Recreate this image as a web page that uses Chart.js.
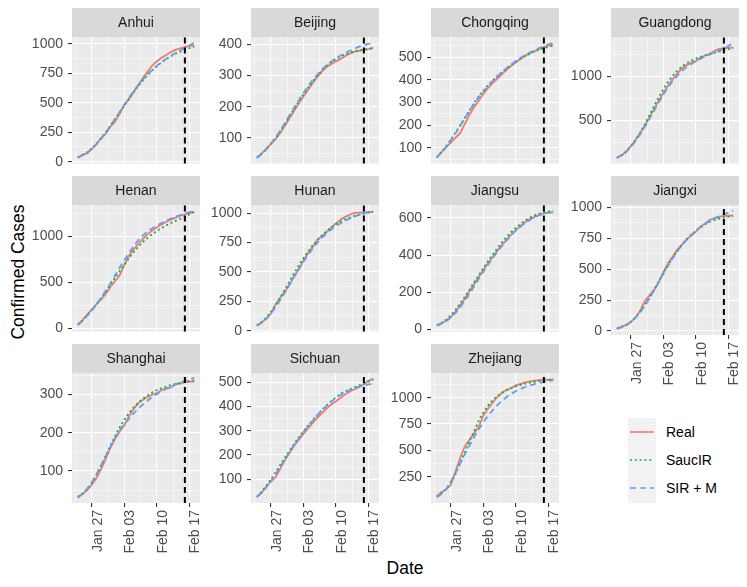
<!DOCTYPE html>
<html>
<head>
<meta charset="utf-8">
<script src="https://cdn.jsdelivr.net/npm/chart.js@4"></script>
<style>
  body { margin: 0; width: 747px; height: 587px; position: relative; overflow: hidden; background: #fff;
         font-family: "Liberation Sans", Arial, sans-serif; }
  canvas { position: absolute; }
  .axis-title { position: absolute; font-size: 17.5px; color: #000; white-space: nowrap; }
  #yTitle { left: 18px; top: 272px; transform: translate(-50%, -50%) rotate(-90deg); }
  #xTitle { left: 405px; top: 568px; transform: translate(-50%, -50%); }
  #legend { position: absolute; left: 628px; top: 418px; }
  .lg-row { height: 28.2px; display: flex; align-items: center; }
  .lg-key { width: 28px; height: 28.2px; background: #F2F2F2; }
  .lg-row span { margin-left: 10px; font-size: 14px; color: #000; }
</style>
</head>
<body>
<div class="axis-title" id="yTitle">Confirmed Cases</div>
<div class="axis-title" id="xTitle">Date</div>
<div id="legend"></div>
<script>
// ========== DATA ==========
// one value per day, index 0 = Jan 24 ... index 25 = Feb 18
const DAY_LABELS = ['Jan 24', 'Jan 25', 'Jan 26', 'Jan 27', 'Jan 28', 'Jan 29', 'Jan 30', 'Jan 31',
    'Feb 01', 'Feb 02', 'Feb 03', 'Feb 04', 'Feb 05', 'Feb 06', 'Feb 07', 'Feb 08', 'Feb 09',
    'Feb 10', 'Feb 11', 'Feb 12', 'Feb 13', 'Feb 14', 'Feb 15', 'Feb 16', 'Feb 17', 'Feb 18'];
const X_TICK_DAYS = [3, 10, 17, 24];
const X_TICK_LABELS = ['Jan 27', 'Feb 03', 'Feb 10', 'Feb 17'];
const CUTOFF_DAY = 23;  // Feb 16, dashed line
const SERIES_NAMES = ['Real', 'SaucIR', 'SIR + M'];

const anhuiReal   = [36, 60, 70, 106, 152, 200, 237, 297, 340, 408, 480, 530, 591, 650, 712, 765, 815, 852, 882, 906, 930, 948, 961, 973, 982, 986];
const anhuiSaucir = [35, 55, 80, 112, 152, 198, 250, 305, 362, 420, 478, 535, 590, 642, 690, 735, 775, 810, 842, 870, 895, 916, 934, 950, 963, 975];
const anhuiSirm   = [33, 52, 77, 108, 147, 193, 245, 302, 362, 423, 484, 543, 599, 651, 699, 742, 780, 815, 846, 874, 899, 922, 944, 965, 986, 1008];

const beijingReal   = [38, 50, 64, 80, 95, 115, 138, 162, 186, 210, 232, 254, 275, 295, 313, 327, 337, 345, 353, 362, 370, 376, 379, 381, 384, 388];
const beijingSaucir = [37, 49, 64, 81, 100, 121, 144, 168, 192, 216, 239, 260, 280, 299, 316, 331, 343, 353, 361, 368, 373, 377, 380, 383, 385, 387];
const beijingSirm   = [36, 48, 63, 81, 101, 123, 147, 172, 197, 221, 244, 265, 285, 303, 319, 333, 345, 355, 364, 372, 379, 386, 392, 397, 401, 405];

const chongqingReal   = [60, 82, 103, 124, 145, 165, 205, 245, 280, 308, 338, 364, 386, 405, 425, 444, 462, 478, 493, 507, 518, 527, 536, 544, 551, 556];
const chongqingSaucir = [58, 82, 108, 137, 167, 199, 232, 265, 298, 327, 352, 376, 397, 416, 434, 451, 466, 480, 493, 505, 516, 525, 533, 540, 546, 551];
const chongqingSirm   = [57, 80, 105, 134, 164, 196, 229, 262, 294, 323, 349, 373, 395, 415, 434, 452, 468, 483, 497, 510, 521, 531, 540, 548, 557, 565];

const guangdongReal   = [78, 98, 146, 207, 277, 354, 436, 535, 632, 725, 813, 895, 970, 1034, 1095, 1131, 1159, 1177, 1219, 1241, 1261, 1294, 1316, 1322, 1328, 1331];
const guangdongSaucir = [72, 102, 145, 203, 275, 360, 455, 558, 665, 765, 858, 940, 1010, 1068, 1115, 1152, 1182, 1206, 1226, 1243, 1258, 1272, 1285, 1298, 1312, 1326];
const guangdongSirm   = [74, 102, 142, 196, 262, 340, 425, 515, 610, 705, 795, 878, 950, 1012, 1064, 1108, 1145, 1177, 1205, 1230, 1253, 1275, 1297, 1320, 1350, 1385];

const henanReal   = [42, 90, 150, 205, 260, 315, 375, 450, 512, 578, 690, 790, 860, 918, 975, 1025, 1065, 1100, 1130, 1160, 1183, 1205, 1225, 1240, 1255, 1265];
const henanSaucir = [38, 85, 140, 200, 262, 328, 398, 472, 548, 622, 695, 765, 830, 888, 940, 985, 1025, 1060, 1092, 1120, 1146, 1170, 1192, 1215, 1240, 1268];
const henanSirm   = [35, 80, 135, 195, 260, 330, 410, 490, 575, 660, 742, 820, 895, 960, 1012, 1055, 1090, 1120, 1147, 1172, 1195, 1215, 1233, 1250, 1266, 1282];

const hunanReal   = [43, 69, 100, 143, 221, 277, 332, 389, 463, 521, 593, 661, 711, 772, 803, 838, 879, 912, 946, 968, 988, 1001, 1004, 1006, 1007, 1008];
const hunanSaucir = [45, 72, 110, 158, 215, 280, 348, 418, 487, 553, 615, 672, 724, 770, 811, 847, 878, 905, 928, 947, 963, 976, 987, 996, 1004, 1010];
const hunanSirm   = [42, 66, 100, 145, 198, 258, 322, 390, 458, 524, 587, 645, 698, 746, 789, 827, 860, 889, 914, 936, 955, 971, 985, 998, 1010, 1021];

const jiangsuReal   = [23, 33, 47, 66, 95, 128, 165, 205, 243, 282, 320, 356, 390, 423, 454, 483, 510, 535, 558, 578, 594, 606, 617, 626, 629, 631];
const jiangsuSaucir = [22, 35, 52, 75, 104, 138, 175, 213, 252, 291, 330, 367, 403, 437, 469, 498, 524, 548, 569, 587, 602, 614, 623, 630, 636, 640];
const jiangsuSirm   = [20, 30, 44, 63, 88, 118, 153, 191, 231, 271, 310, 348, 384, 418, 450, 480, 507, 532, 554, 573, 590, 604, 615, 623, 629, 633];

const jiangxiReal   = [18, 36, 48, 72, 109, 162, 240, 286, 333, 391, 476, 548, 600, 661, 698, 740, 771, 804, 844, 872, 900, 913, 925, 930, 933, 934];
const jiangxiSaucir = [20, 32, 50, 76, 111, 155, 208, 268, 333, 400, 467, 531, 592, 647, 697, 741, 779, 812, 840, 863, 882, 897, 909, 918, 925, 930];
const jiangxiSirm   = [18, 30, 47, 72, 106, 150, 203, 263, 328, 395, 462, 527, 588, 644, 694, 738, 777, 811, 841, 867, 890, 910, 927, 943, 958, 972];

const shanghaiReal   = [33, 40, 50, 64, 82, 105, 132, 160, 184, 203, 219, 243, 262, 277, 286, 293, 299, 303, 311, 315, 318, 326, 328, 332, 333, 333];
const shanghaiSaucir = [32, 40, 52, 68, 90, 114, 140, 166, 191, 214, 234, 251, 266, 278, 289, 297, 305, 311, 316, 320, 324, 327, 330, 332, 334, 336];
const shanghaiSirm   = [30, 40, 54, 71, 92, 115, 139, 163, 186, 206, 223, 236, 250, 263, 274, 284, 293, 301, 308, 315, 321, 326, 331, 335, 339, 343];

const sichuanReal   = [28, 44, 69, 90, 108, 142, 177, 207, 238, 262, 287, 310, 332, 353, 373, 392, 408, 422, 436, 450, 462, 471, 480, 492, 506, 514];
const sichuanSaucir = [28, 48, 72, 99, 128, 158, 188, 217, 245, 272, 297, 321, 344, 366, 386, 405, 422, 438, 452, 463, 470, 479, 487, 494, 503, 511];
const sichuanSirm   = [27, 44, 66, 92, 120, 150, 181, 211, 240, 268, 294, 318, 341, 363, 384, 403, 420, 435, 448, 459, 468, 476, 482, 487, 491, 495];

const zhejiangReal   = [62, 104, 128, 173, 296, 428, 538, 599, 661, 724, 829, 895, 954, 1006, 1048, 1075, 1092, 1117, 1131, 1145, 1155, 1162, 1167, 1171, 1172, 1173];
const zhejiangSaucir = [60, 90, 135, 195, 275, 380, 480, 585, 680, 780, 860, 925, 975, 1015, 1045, 1070, 1090, 1107, 1121, 1133, 1143, 1151, 1158, 1163, 1168, 1173];
const zhejiangSirm   = [55, 85, 130, 200, 285, 375, 460, 545, 625, 700, 768, 828, 880, 930, 972, 1007, 1037, 1062, 1083, 1101, 1116, 1129, 1140, 1150, 1158, 1165];

// y tick labels per panel (free y scales)
const anhuiTicks = [0, 250, 500, 750, 1000];
const beijingTicks = [100, 200, 300, 400];
const chongqingTicks = [100, 200, 300, 400, 500];
const guangdongTicks = [500, 1000];
const henanTicks = [0, 500, 1000];
const hunanTicks = [0, 250, 500, 750, 1000];
const jiangsuTicks = [0, 200, 400, 600];
const jiangxiTicks = [0, 250, 500, 750, 1000];
const shanghaiTicks = [100, 200, 300];
const sichuanTicks = [100, 200, 300, 400, 500];
const zhejiangTicks = [250, 500, 750, 1000];
// ===========================

// layout of the facet grid
const COL_X = [72, 251, 431, 611];
const ROW_Y = [8, 176, 344];
const STRIP_H = 29;
const PANEL_W = 128;
const PANEL_H = 130;
const AXIS_W = 60;
const PAD_R = 16;
const X_AXIS_H = 62;
const X_MIN = -1.25, X_MAX = 26.25;

const COLORS = ['#F8766D', '#00BA38', '#619CFF'];
const DASHES = [[], [2, 2.8], [6, 4]];

const panels = [
    { name: 'Anhui', series: [anhuiReal, anhuiSaucir, anhuiSirm], ticks: anhuiTicks, min: -16.5, max: 1058, col: 0, row: 0, xAxis: false },
    { name: 'Beijing', series: [beijingReal, beijingSaucir, beijingSirm], ticks: beijingTicks, min: 18, max: 423, col: 1, row: 0, xAxis: false },
    { name: 'Chongqing', series: [chongqingReal, chongqingSaucir, chongqingSirm], ticks: chongqingTicks, min: 31, max: 589, col: 2, row: 0, xAxis: false },
    { name: 'Guangdong', series: [guangdongReal, guangdongSaucir, guangdongSirm], ticks: guangdongTicks, min: 8, max: 1452, col: 3, row: 0, xAxis: false },
    { name: 'Henan', series: [henanReal, henanSaucir, henanSirm], ticks: henanTicks, min: -35, max: 1342, col: 0, row: 1, xAxis: false },
    { name: 'Hunan', series: [hunanReal, hunanSaucir, hunanSirm], ticks: hunanTicks, min: -8, max: 1069, col: 1, row: 1, xAxis: false },
    { name: 'Jiangsu', series: [jiangsuReal, jiangsuSaucir, jiangsuSirm], ticks: jiangsuTicks, min: -12, max: 670, col: 2, row: 1, xAxis: false },
    { name: 'Jiangxi', series: [jiangxiReal, jiangxiSaucir, jiangxiSirm], ticks: jiangxiTicks, min: -32, max: 1019, col: 3, row: 1, xAxis: true },
    { name: 'Shanghai', series: [shanghaiReal, shanghaiSaucir, shanghaiSirm], ticks: shanghaiTicks, min: 16.6, max: 355.5, col: 0, row: 2, xAxis: true },
    { name: 'Sichuan', series: [sichuanReal, sichuanSaucir, sichuanSirm], ticks: sichuanTicks, min: 2.3, max: 538, col: 1, row: 2, xAxis: true },
    { name: 'Zhejiang', series: [zhejiangReal, zhejiangSaucir, zhejiangSirm], ticks: zhejiangTicks, min: 0.5, max: 1234, col: 2, row: 2, xAxis: true }
];

Chart.defaults.font.family = '"Liberation Sans", Arial, sans-serif';

// panel background, strip and the dashed cutoff line
const facetDecor = {
    id: 'facetDecor',
    beforeDraw(chart, args, opts) {
        const { ctx, chartArea: a } = chart;
        ctx.save();
        ctx.fillStyle = '#EBEBEB';
        ctx.fillRect(a.left, a.top, a.right - a.left, a.bottom - a.top);
        ctx.fillStyle = '#D9D9D9';
        ctx.fillRect(a.left, a.top - STRIP_H, a.right - a.left, STRIP_H);
        ctx.fillStyle = '#1A1A1A';
        ctx.font = '14px "Liberation Sans", Arial, sans-serif';
        ctx.textAlign = 'center';
        ctx.textBaseline = 'middle';
        ctx.fillText(opts.title, (a.left + a.right) / 2, a.top - STRIP_H / 2 + 1);
        ctx.restore();
    },
    afterDatasetsDraw(chart) {
        const { ctx, chartArea: a } = chart;
        const x = chart.scales.x.getPixelForValue(CUTOFF_DAY);
        ctx.save();
        ctx.strokeStyle = '#000000';
        ctx.lineWidth = 2;
        ctx.setLineDash([6, 4]);
        ctx.beginPath();
        ctx.moveTo(x, a.bottom);
        ctx.lineTo(x, a.top);
        ctx.stroke();
        ctx.restore();
    }
};

function minorBreaks(majors, min, max) {
    const step = majors.length > 1 ? majors[1] - majors[0] : majors[0];
    const out = [];
    for (let k = Math.floor(min / step) - 1; k <= Math.ceil(max / step); k++) {
        const v = (k + 0.5) * step;
        if (v > min && v < max) out.push(v);
    }
    return out;
}

function createPanel(p) {
    const canvas = document.createElement('canvas');
    const w = AXIS_W + PANEL_W + PAD_R;
    const h = STRIP_H + PANEL_H + (p.xAxis ? X_AXIS_H : 10);
    canvas.width = w;
    canvas.height = h;
    canvas.style.left = (COL_X[p.col] - AXIS_W) + 'px';
    canvas.style.top = ROW_Y[p.row] + 'px';
    canvas.style.width = w + 'px';
    canvas.style.height = h + 'px';
    document.body.appendChild(canvas);

    const xMinor = minorBreaks(X_TICK_DAYS.map(d => d - X_TICK_DAYS[0]), X_MIN - X_TICK_DAYS[0], X_MAX - X_TICK_DAYS[0])
        .map(v => v + X_TICK_DAYS[0]);
    const xAll = X_TICK_DAYS.concat(xMinor).sort((a, b) => a - b);
    const yAll = p.ticks.concat(minorBreaks(p.ticks, p.min, p.max)).sort((a, b) => a - b);
    const isMajorX = v => X_TICK_DAYS.includes(v);
    const isMajorY = v => p.ticks.includes(v);

    const datasets = p.series.map((values, s) => ({
        label: SERIES_NAMES[s],
        data: values.map((v, i) => ({ x: i, y: v })),
        borderColor: COLORS[s],
        borderWidth: 1.8,
        borderDash: DASHES[s],
        pointRadius: 0,
        tension: 0,
        fill: false,
        order: 3 - s
    }));

    new Chart(canvas, {
        type: 'line',
        data: { datasets },
        options: {
            responsive: false,
            animation: false,
            layout: { padding: { top: STRIP_H, right: PAD_R, bottom: p.xAxis ? 0 : 10, left: 0 } },
            plugins: {
                legend: { display: false },
                tooltip: { enabled: false },
                facetDecor: { title: p.name }
            },
            scales: {
                x: {
                    type: 'linear',
                    min: X_MIN,
                    max: X_MAX,
                    afterBuildTicks: scale => { scale.ticks = xAll.map(v => ({ value: v })); },
                    afterFit: scale => { scale.height = p.xAxis ? X_AXIS_H : 0; },
                    border: { display: false },
                    grid: {
                        color: '#FFFFFF',
                        lineWidth: ctx => isMajorX(ctx.tick.value) ? 1.1 : 0.55,
                        drawTicks: p.xAxis,
                        tickLength: 4,
                        tickWidth: 1.1,
                        tickColor: ctx => isMajorX(ctx.tick.value) ? '#333333' : 'rgba(0,0,0,0)'
                    },
                    ticks: {
                        display: p.xAxis,
                        autoSkip: false,
                        minRotation: 90,
                        maxRotation: 90,
                        padding: 3,
                        labelOffset: 6,
                        color: '#4D4D4D',
                        font: { size: 14 },
                        callback: v => {
                            const i = X_TICK_DAYS.indexOf(v);
                            return i >= 0 ? X_TICK_LABELS[i] : '';
                        }
                    }
                },
                y: {
                    type: 'linear',
                    min: p.min,
                    max: p.max,
                    afterBuildTicks: scale => { scale.ticks = yAll.map(v => ({ value: v })); },
                    afterFit: scale => { scale.width = AXIS_W; },
                    border: { display: false },
                    grid: {
                        color: '#FFFFFF',
                        lineWidth: ctx => isMajorY(ctx.tick.value) ? 1.1 : 0.55,
                        tickLength: 4,
                        tickWidth: 1.1,
                        tickColor: ctx => isMajorY(ctx.tick.value) ? '#333333' : 'rgba(0,0,0,0)'
                    },
                    ticks: {
                        autoSkip: false,
                        padding: 5,
                        color: '#4D4D4D',
                        font: { size: 14 },
                        callback: v => isMajorY(v) ? String(v) : ''
                    }
                }
            }
        },
        plugins: [facetDecor]
    });
}

panels.forEach(createPanel);

// legend
const legend = document.getElementById('legend');
SERIES_NAMES.forEach((name, s) => {
    const row = document.createElement('div');
    row.className = 'lg-row';
    const dash = DASHES[s].length ? ` stroke-dasharray="${DASHES[s].join(' ')}"` : '';
    row.innerHTML = `<div class="lg-key"><svg width="28" height="28"><line x1="2" y1="14" x2="26" y2="14" stroke="${COLORS[s]}" stroke-width="1.6"${dash}/></svg></div><span>${name}</span>`;
    legend.appendChild(row);
});
</script>
</body>
</html>
